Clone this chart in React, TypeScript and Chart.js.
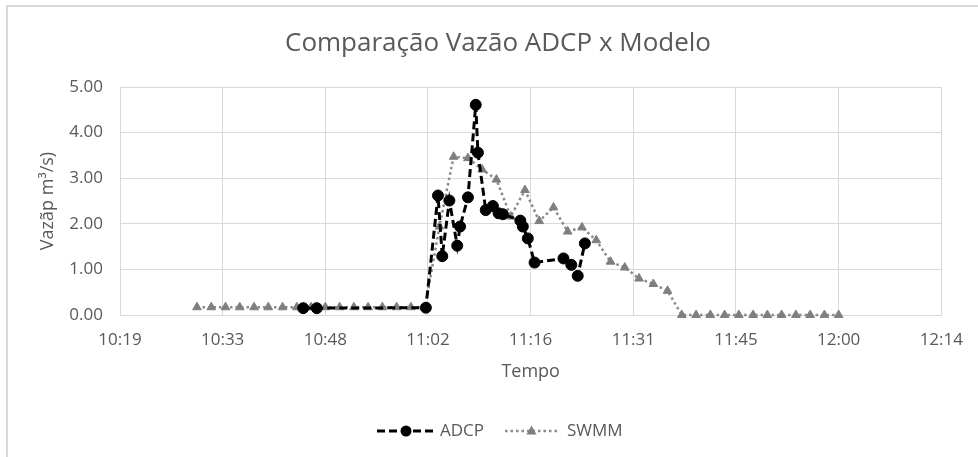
import React, { useEffect, useRef } from "react";
import { Chart, registerables } from "chart.js";

Chart.register(...registerables);

// ---- data ----
const chartTitle = "Comparação Vazão ADCP x Modelo";
const xAxisTitle = "Tempo";
const yAxisTitle = "Vazãp m³/s)";

// x axis ticks (minutes after midnight) and their labels
const xTickValues = [619.2, 633.6, 648, 662.4, 676.8, 691.2, 705.6, 720, 734.4];
const xTickLabels = ["10:19", "10:33", "10:48", "11:02", "11:16", "11:31", "11:45", "12:00", "12:14"];
const yTickValues = [0, 1, 2, 3, 4, 5];

const adcpTimes = [
  "10:44:54", "10:46:48", "11:02:06", "11:03:48", "11:04:24", "11:05:24", "11:06:30", "11:06:54",
  "11:08:00", "11:09:06", "11:09:24", "11:10:30", "11:11:30", "11:12:18", "11:12:54", "11:15:21",
  "11:15:42", "11:16:24", "11:17:21", "11:21:24", "11:22:30", "11:23:24", "11:24:24",
];
const adcpValues = [
  0.15, 0.15, 0.16, 2.62, 1.29, 2.51, 1.52, 1.94,
  2.58, 4.61, 3.56, 2.30, 2.39, 2.23, 2.21, 2.07,
  1.94, 1.68, 1.15, 1.24, 1.10, 0.86, 1.57,
];

const swmmTimes = [
  "10:30", "10:32", "10:34", "10:36", "10:38", "10:40", "10:42", "10:44", "10:46", "10:48",
  "10:50", "10:52", "10:54", "10:56", "10:58", "11:00", "11:02", "11:04", "11:06", "11:08",
  "11:10", "11:12", "11:14", "11:16", "11:18", "11:20", "11:22", "11:24", "11:26", "11:28",
  "11:30", "11:32", "11:34", "11:36", "11:38", "11:40", "11:42", "11:44", "11:46", "11:48",
  "11:50", "11:52", "11:54", "11:56", "11:58", "12:00",
];
const swmmValues = [
  0.17, 0.17, 0.17, 0.17, 0.17, 0.17, 0.17, 0.17, 0.17, 0.17,
  0.17, 0.17, 0.17, 0.17, 0.17, 0.17, 0.17, 1.94, 3.47, 3.44,
  3.19, 2.97, 2.16, 2.74, 2.06, 2.36, 1.83, 1.92, 1.64, 1.17,
  1.04, 0.80, 0.68, 0.53, 0, 0, 0, 0, 0, 0,
  0, 0, 0, 0, 0, 0,
];

const seriesNames = ["ADCP", "SWMM"];

// ---- helpers ----
function toMinutes(t: string): number {
  const p = t.split(":").map(Number);
  return p[0] * 60 + p[1] + (p[2] || 0) / 60;
}

const FONT = "'Open Sans', 'Noto Sans', sans-serif";
const TEXT = "#595959";
const GRID = "#d9d9d9";

const decorPlugin = {
  id: "decor",
  afterDraw(chart: any) {
    const ctx = chart.ctx as CanvasRenderingContext2D;
    const area = chart.chartArea;
    ctx.save();
    // chart frame
    ctx.strokeStyle = "#d9d9d9";
    ctx.lineWidth = 2;
    ctx.beginPath();
    ctx.moveTo(7, chart.height + 2);
    ctx.lineTo(7, 6);
    ctx.lineTo(chart.width + 2, 6);
    ctx.stroke();

    ctx.fillStyle = TEXT;
    ctx.textAlign = "center";
    ctx.textBaseline = "middle";
    // title
    ctx.font = `26px ${FONT}`;
    ctx.fillText(chartTitle, 498, 44);
    // x axis title
    ctx.font = `18px ${FONT}`;
    ctx.fillText(xAxisTitle, (area.left + area.right) / 2, 372);
    // y axis title
    ctx.save();
    ctx.translate(48, (area.top + area.bottom) / 2);
    ctx.rotate(-Math.PI / 2);
    ctx.fillText(yAxisTitle, 0, 0);
    ctx.restore();

    // legend
    const items = [
      { x0: 377, x1: 435, tx: 440 },
      { x0: 505, x1: 558, tx: 567 },
    ];
    const ly = 431;
    chart.data.datasets.forEach((ds: any, i: number) => {
      const it = items[i];
      ctx.save();
      ctx.strokeStyle = ds.borderColor;
      ctx.lineWidth = ds.borderWidth;
      ctx.setLineDash(ds.borderDash || []);
      ctx.beginPath();
      ctx.moveTo(it.x0, ly);
      ctx.lineTo(it.x1, ly);
      ctx.stroke();
      ctx.restore();
      ctx.save();
      ctx.fillStyle = ds.pointBackgroundColor;
      ctx.strokeStyle = ds.pointBorderColor;
      ctx.lineWidth = 1;
      const cx = (it.x0 + it.x1) / 2;
      const r = ds.pointRadius;
      ctx.beginPath();
      if (ds.pointStyle === "triangle") {
        ctx.moveTo(cx, ly - r * 1.1);
        ctx.lineTo(cx + r, ly + r * 0.7);
        ctx.lineTo(cx - r, ly + r * 0.7);
        ctx.closePath();
      } else {
        ctx.arc(cx, ly, r, 0, Math.PI * 2);
      }
      ctx.fill();
      ctx.restore();
      ctx.fillStyle = TEXT;
      ctx.font = `17px ${FONT}`;
      ctx.textAlign = "left";
      ctx.fillText(ds.label, it.tx, ly);
    });
    ctx.restore();
  },
};

export default function App() {
  const ref = useRef<HTMLCanvasElement | null>(null);

  useEffect(() => {
    if (!ref.current) return;
    const adcp = adcpTimes.map((t, i) => ({ x: toMinutes(t), y: adcpValues[i] }));
    const swmm = swmmTimes.map((t, i) => ({ x: toMinutes(t), y: swmmValues[i] }));
    const chart = new Chart(ref.current, {
      type: "scatter",
      data: {
        datasets: [
          {
            label: seriesNames[0],
            data: adcp,
            showLine: true,
            borderColor: "#000000",
            backgroundColor: "#000000",
            pointBackgroundColor: "#000000",
            pointBorderColor: "#000000",
            borderWidth: 3,
            borderDash: [8, 4],
            pointRadius: 5.5,
            pointBorderWidth: 1,
            pointStyle: "circle",
            tension: 0,
            clip: false,
          } as any,
          {
            label: seriesNames[1],
            data: swmm,
            showLine: true,
            borderColor: "#8a8a8a",
            backgroundColor: "#7f7f7f",
            pointBackgroundColor: "#7f7f7f",
            pointBorderColor: "#7f7f7f",
            borderWidth: 2.5,
            borderDash: [2.5, 3],
            pointRadius: 5,
            pointBorderWidth: 1,
            pointStyle: "triangle",
            tension: 0,
            clip: false,
          } as any,
        ],
      },
      options: {
        animation: false,
        responsive: false,
        maintainAspectRatio: false,
        layout: { padding: { top: 87, right: 34, bottom: 0, left: 0 } },
        plugins: {
          legend: { display: false },
          title: { display: false },
          tooltip: { enabled: false },
        },
        scales: {
          x: {
            type: "linear",
            min: xTickValues[0],
            max: xTickValues[xTickValues.length - 1],
            afterBuildTicks: (s: any) => {
              s.ticks = xTickValues.map((v) => ({ value: v }));
            },
            afterFit: (s: any) => {
              s.height = 142;
            },
            grid: { color: GRID, lineWidth: 1, drawTicks: false },
            border: { color: GRID },
            ticks: {
              color: TEXT,
              font: { family: FONT, size: 17 },
              padding: 15,
              maxRotation: 0,
              autoSkip: false,
              callback: (v: any, i: number) => xTickLabels[i],
            },
          },
          y: {
            type: "linear",
            min: 0,
            max: 5,
            afterBuildTicks: (s: any) => {
              s.ticks = yTickValues.map((v) => ({ value: v }));
            },
            afterFit: (s: any) => {
              s.width = 120;
            },
            grid: { color: GRID, lineWidth: 1, drawTicks: false },
            border: { color: GRID },
            ticks: {
              color: TEXT,
              font: { family: FONT, size: 17 },
              padding: 17,
              callback: (v: any) => Number(v).toFixed(2),
            },
          },
        },
      },
      plugins: [decorPlugin],
    });
    return () => chart.destroy();
  }, []);

  return (
    <div style={{ position: "absolute", left: 0, top: 0, width: 978, height: 457, background: "#fff", overflow: "hidden" }}>
      <canvas ref={ref} width={978} height={457} style={{ display: "block", width: 978, height: 457 }} />
    </div>
  );
}
